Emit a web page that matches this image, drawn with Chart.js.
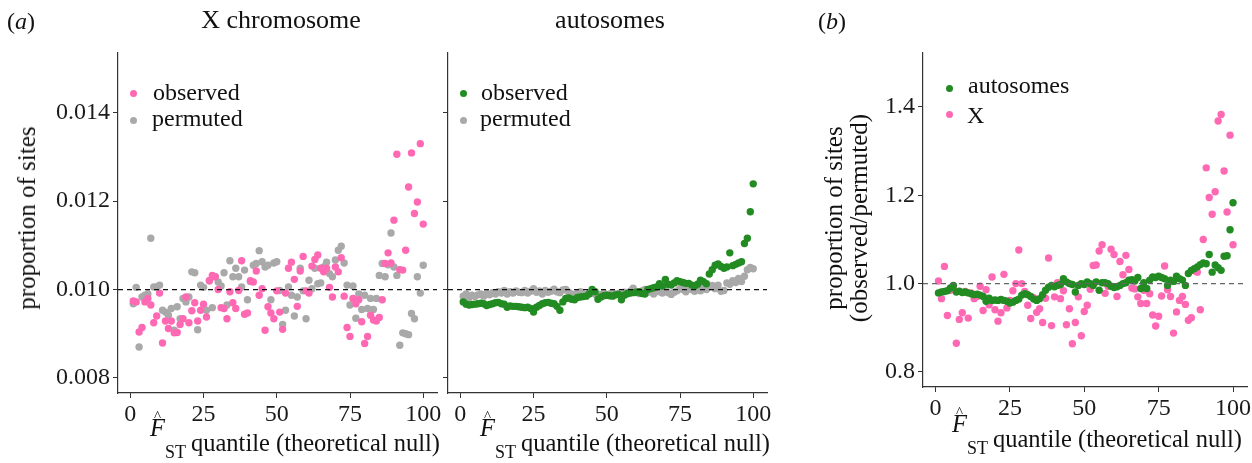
<!DOCTYPE html>
<html>
<head>
<meta charset="utf-8">
<script src="https://cdn.jsdelivr.net/npm/chart.js@4.4.1/dist/chart.umd.min.js"></script>
<style>
  body { margin: 0; background: #fff; }
  #fig { position: relative; width: 1252px; height: 463px; overflow: hidden;
         font-family: "Liberation Serif", serif; color: #111; }
  canvas { position: absolute; top: 0; }
  .t { position: absolute; font-size: 24px; line-height: 24px; white-space: nowrap; }
  .c { transform: translateX(-50%); }
  .strip { font-size: 26px; line-height: 26px; }
  .rot { transform: translate(-50%, -50%) rotate(-90deg); font-size: 25px; }
  .dot { position: absolute; width: 7px; height: 7px; border-radius: 50%; }
  .xt { font-size: 24.5px; line-height: 25px; }
  .xt .F { font-style: italic; position: relative; top: -15px; }
  .xt .hat { position: absolute; left: 4px; top: -6px; font-style: normal; font-size: 15px; line-height: 16px; }
  .xt .sub { font-size: 18px; position: relative; top: 7px; margin-right: 5px; }
</style>
</head>
<body>
<div id="fig">
  <canvas id="chart1" width="460" height="463" style="left:0"></canvas>
  <canvas id="chart2" width="350" height="463" style="left:440px"></canvas>
  <canvas id="chart3" width="480" height="463" style="left:790px"></canvas>

  <div class="t" style="left:7px;top:9px">(<i>a</i>)</div>
  <div class="t c strip" style="left:281px;top:7px">X chromosome</div>
  <div class="t c strip" style="left:610px;top:7px">autosomes</div>
  <div class="t" style="left:818px;top:9px">(<i>b</i>)</div>

  <div class="t rot" style="left:27px;top:218px">proportion of sites</div>
  <div class="t rot" style="left:834px;top:218px">proportion of sites</div>
  <div class="t rot" style="left:859px;top:218px">(observed/permuted)</div>

  <div class="t xt" style="left:150px;top:430px"><span class="F">F<span class="hat">^</span></span><span class="sub">ST</span>quantile (theoretical null)</div>
  <div class="t xt" style="left:480px;top:430px"><span class="F">F<span class="hat">^</span></span><span class="sub">ST</span>quantile (theoretical null)</div>
  <div class="t xt" style="left:952px;top:426px"><span class="F">F<span class="hat">^</span></span><span class="sub">ST</span>quantile (theoretical null)</div>

  <span class="dot" style="left:130px;top:90px;background:#ff69b4"></span>
  <div class="t" style="left:153px;top:80px">observed</div>
  <span class="dot" style="left:130px;top:117px;background:#a9a9a9"></span>
  <div class="t" style="left:152px;top:106px">permuted</div>

  <span class="dot" style="left:460px;top:90px;background:#228b22"></span>
  <div class="t" style="left:481px;top:80px">observed</div>
  <span class="dot" style="left:460px;top:117px;background:#a9a9a9"></span>
  <div class="t" style="left:480px;top:106px">permuted</div>

  <span class="dot" style="left:946px;top:85px;background:#228b22"></span>
  <div class="t" style="left:968px;top:73px">autosomes</div>
  <span class="dot" style="left:946px;top:111px;background:#ff69b4"></span>
  <div class="t" style="left:967px;top:103px">X</div>
</div>

<script>
const quantiles = [1, 2, 3, 4, 5, 6, 7, 8, 9, 10, 11, 12, 13, 14, 15, 16, 17, 18, 19, 20,
  21, 22, 23, 24, 25, 26, 27, 28, 29, 30, 31, 32, 33, 34, 35, 36, 37, 38, 39, 40,
  41, 42, 43, 44, 45, 46, 47, 48, 49, 50, 51, 52, 53, 54, 55, 56, 57, 58, 59, 60,
  61, 62, 63, 64, 65, 66, 67, 68, 69, 70, 71, 72, 73, 74, 75, 76, 77, 78, 79, 80,
  81, 82, 83, 84, 85, 86, 87, 88, 89, 90, 91, 92, 93, 94, 95, 96, 97, 98, 99, 100];

// X chromosome, proportion of sites
const xObserved = [0.00974, 0.00972, 0.00904, 0.00914, 0.00972, 0.00980, 0.00965, 0.00925, 0.00940, 0.00992,
  0.00879, 0.00929, 0.00912, 0.00929, 0.00902, 0.00903, 0.00921, 0.00934, 0.00983, 0.00925,
  0.00952, 0.00970, 0.00929, 0.00953, 0.00967, 0.00938, 0.01020, 0.01032, 0.01029, 0.01000,
  0.00959, 0.00957, 0.00934, 0.00995, 0.00970, 0.00957, 0.00998, 0.01065, 0.00944, 0.00947,
  0.01020, 0.01017, 0.01042, 0.00987, 0.01002, 0.00908, 0.00961, 0.00947, 0.00934, 0.00997,
  0.00949, 0.00910, 0.00992, 0.01048, 0.01062, 0.01023, 0.00962, 0.01042, 0.01075, 0.00997,
  0.00992, 0.01053, 0.01068, 0.01078, 0.01048, 0.01040, 0.01048, 0.01005, 0.00983, 0.01051,
  0.01040, 0.01072, 0.00985, 0.00914, 0.00894, 0.00980, 0.00968, 0.00977, 0.00927, 0.00878,
  0.00894, 0.00942, 0.00931, 0.00929, 0.00937, 0.00977, 0.01059, 0.01083, 0.01060, 0.01157,
  0.01306, 0.01045, 0.01044, 0.01089, 0.01232, 0.01309, 0.01172, 0.01198, 0.01330, 0.01148];
const xPermuted = [0.00968, 0.01005, 0.00870, 0.00983, 0.00987, 0.00990, 0.01116, 0.01006, 0.01006, 0.01010,
  0.00953, 0.00949, 0.00942, 0.00957, 0.00908, 0.00961, 0.00934, 0.00980, 0.00972, 0.00983,
  0.01040, 0.01038, 0.00909, 0.01010, 0.01005, 0.00953, 0.01020, 0.00959, 0.01029, 0.01017,
  0.01008, 0.01038, 0.00965, 0.01065, 0.01029, 0.01048, 0.01029, 0.01006, 0.01044, 0.00977,
  0.01018, 0.01055, 0.01059, 0.01088, 0.01063, 0.01051, 0.01055, 0.00977, 0.01060, 0.01063,
  0.00998, 0.00921, 0.00953, 0.01006, 0.00987, 0.00940, 0.00983, 0.01048, 0.00997, 0.00934,
  0.01021, 0.01002, 0.01048, 0.01013, 0.01015, 0.01051, 0.01062, 0.01036, 0.01029, 0.01067,
  0.01089, 0.01098, 0.01060, 0.01010, 0.00965, 0.01008, 0.00935, 0.00990, 0.00955, 0.00987,
  0.00957, 0.00980, 0.00955, 0.00980, 0.01032, 0.01059, 0.01029, 0.01056, 0.01128, 0.01051,
  0.01032, 0.00874, 0.00902, 0.00900, 0.00898, 0.00946, 0.00934, 0.01029, 0.00992, 0.01055];

// autosomes, proportion of sites
const autoObserved = [0.00972, 0.00967, 0.00965, 0.00966, 0.00967, 0.00968, 0.00969, 0.00968, 0.00964, 0.00966,
  0.00968, 0.00970, 0.00971, 0.00968, 0.00967, 0.00960, 0.00963, 0.00962, 0.00962, 0.00961,
  0.00960, 0.00959, 0.00960, 0.00957, 0.00949, 0.00960, 0.00964, 0.00968, 0.00970, 0.00971,
  0.00969, 0.00968, 0.00962, 0.00953, 0.00972, 0.00980, 0.00981, 0.00978, 0.00977, 0.00982,
  0.00983, 0.00984, 0.00985, 0.00990, 0.01000, 0.00995, 0.00978, 0.00983, 0.00986, 0.00987,
  0.00986, 0.00985, 0.00988, 0.00989, 0.00977, 0.00987, 0.00991, 0.00992, 0.00993, 0.00994,
  0.00995, 0.00991, 0.00990, 0.01000, 0.01002, 0.01004, 0.01006, 0.01013, 0.01008, 0.01023,
  0.01012, 0.01010, 0.01015, 0.01020, 0.01018, 0.01016, 0.01014, 0.01014, 0.01010, 0.01008,
  0.01012, 0.01021, 0.01018, 0.01013, 0.01035, 0.01045, 0.01055, 0.01058, 0.01052, 0.01048,
  0.01051, 0.01083, 0.01054, 0.01057, 0.01060, 0.01063, 0.01104, 0.01116, 0.01176, 0.01239];
const autoPermuted = [0.00985, 0.00990, 0.00982, 0.00987, 0.00984, 0.00988, 0.00990, 0.00985, 0.00991, 0.00988,
  0.00993, 0.00990, 0.00995, 0.00992, 0.00998, 0.00990, 0.00995, 0.00992, 0.00997, 0.00994,
  0.00993, 0.00998, 0.00992, 0.00996, 0.01002, 0.00994, 0.00997, 0.00990, 0.00998, 0.00994,
  0.00996, 0.01001, 0.00995, 0.00993, 0.00999, 0.01000, 0.00994, 0.00990, 0.00986, 0.00992,
  0.00995, 0.00990, 0.00988, 0.00993, 0.00996, 0.00990, 0.00985, 0.00989, 0.00992, 0.00987,
  0.00990, 0.00993, 0.00988, 0.00991, 0.00985, 0.00994, 0.00990, 0.00996, 0.01003, 0.00995,
  0.00991, 0.00997, 0.01000, 0.00994, 0.00996, 0.00990, 0.00998, 0.00995, 0.00992, 0.00999,
  0.00993, 0.00989, 0.00994, 0.00997, 0.01003, 0.01000, 0.00995, 0.01002, 0.01000, 0.00996,
  0.01001, 0.00997, 0.01004, 0.01000, 0.01006, 0.01009, 0.01002, 0.01010, 0.00996, 0.00998,
  0.01015, 0.01012, 0.01020, 0.01016, 0.01025, 0.01018, 0.01030, 0.01045, 0.01050, 0.01047];

// observed / permuted
const ratioAuto = [0.979, 0.981, 0.982, 0.984, 0.990, 0.996, 0.981, 0.983, 0.980, 0.981,
  0.979, 0.977, 0.975, 0.976, 0.974, 0.971, 0.960, 0.967, 0.962, 0.963,
  0.962, 0.964, 0.962, 0.960, 0.956, 0.958, 0.962, 0.965, 0.974, 0.977,
  0.975, 0.971, 0.965, 0.962, 0.966, 0.975, 0.985, 0.992, 0.996, 0.993,
  0.996, 0.998, 1.011, 1.004, 1.000, 0.998, 0.981, 0.996, 1.000, 0.998,
  1.004, 1.000, 0.996, 1.004, 0.985, 1.002, 1.002, 1.000, 0.994, 0.991,
  0.993, 0.996, 1.000, 1.002, 1.008, 1.009, 1.006, 1.014, 0.989, 1.002,
  0.989, 1.008, 1.015, 1.014, 1.017, 1.014, 1.011, 0.996, 1.008, 1.005,
  1.017, 1.011, 1.008, 0.996, 1.023, 1.030, 1.034, 1.038, 1.043, 1.047,
  1.045, 1.066, 1.026, 1.042, 1.036, 1.030, 1.062, 1.063, 1.122, 1.183];
const ratioX = [1.006, 0.966, 1.039, 0.928, 0.985, 0.990, 0.865, 0.919, 0.934, 0.982,
  0.922, 0.979, 0.966, 0.971, 0.994, 0.939, 0.986, 0.952, 1.015, 0.941,
  0.915, 0.934, 1.021, 0.945, 0.962, 0.984, 1.000, 1.076, 1.000, 0.982,
  0.951, 0.921, 0.968, 0.935, 0.943, 0.912, 0.967, 1.058, 0.905, 0.970,
  1.002, 0.966, 0.984, 0.907, 0.943, 0.864, 0.912, 0.970, 0.882, 0.937,
  0.951, 0.987, 1.041, 1.042, 1.074, 1.088, 0.978, 0.994, 1.078, 1.066,
  0.971, 1.050, 1.020, 1.064, 1.032, 0.990, 0.988, 0.970, 0.955, 0.985,
  0.955, 0.977, 0.929, 0.904, 0.926, 0.972, 1.040, 0.986, 0.971, 0.888,
  0.936, 0.962, 0.971, 0.953, 0.917, 0.923, 1.029, 1.026, 0.941, 1.100,
  1.262, 1.195, 1.157, 1.208, 1.368, 1.383, 1.255, 1.162, 1.336, 1.088];

const xTicks = [0, 25, 50, 75, 100];
const propTicks = [0.008, 0.010, 0.012, 0.014];
const ratioTicks = [0.8, 1.0, 1.2, 1.4];

const PINK = "#ff69b4";
const GREY = "#a9a9a9";
const GREEN = "#228b22";

Chart.defaults.font.family = "'Liberation Serif', serif";
Chart.defaults.font.size = 24;
Chart.defaults.color = "#1a1a1a";

function points(values) {
  return values.map((v, i) => ({ x: quantiles[i], y: v }));
}

// dashed horizontal reference line
const refLine = {
  id: "refLine",
  afterDatasetsDraw(chart, args, opts) {
    const { ctx, chartArea } = chart;
    const y = chart.scales.y.getPixelForValue(opts.value);
    ctx.save();
    ctx.strokeStyle = opts.color;
    ctx.lineWidth = 1.2;
    ctx.setLineDash([5, 4]);
    ctx.beginPath();
    ctx.moveTo(chartArea.left, y);
    ctx.lineTo(chartArea.right, y);
    ctx.stroke();
    ctx.restore();
  },
};

function xScale(height) {
  return {
    type: "linear",
    min: -4.2,
    max: 104.7,
    afterBuildTicks: (s) => { s.ticks = xTicks.map((v) => ({ value: v })); },
    afterFit: (s) => { s.height = height; },
    ticks: { autoSkip: false, maxRotation: 0, padding: 2, callback: (v) => String(v) },
    grid: { drawOnChartArea: false, tickLength: 5, tickColor: "#333" },
    border: { color: "#333", width: 1.2 },
  };
}

function yScale(min, max, ticks, digits, width, showLabels) {
  return {
    type: "linear",
    min: min,
    max: max,
    afterBuildTicks: (s) => { s.ticks = ticks.map((v) => ({ value: v })); },
    afterFit: (s) => { s.width = width; },
    ticks: { display: showLabels, autoSkip: false, padding: 3, callback: (v) => Number(v).toFixed(digits) },
    grid: { drawOnChartArea: false, tickLength: 5, tickColor: "#333" },
    border: { color: "#333", width: 1.2 },
  };
}

function baseOptions(rightPad, ref, refColor, xs, ys) {
  return {
    responsive: false,
    animation: false,
    layout: { padding: { top: 53, right: rightPad, left: 0, bottom: 0 } },
    elements: { point: { radius: 3.7, borderWidth: 0, hoverRadius: 3.7 } },
    plugins: {
      legend: { display: false },
      tooltip: { enabled: false },
      refLine: { value: ref, color: refColor },
    },
    scales: { x: xs, y: ys },
  };
}

function generateChart1() {
  new Chart(document.getElementById("chart1"), {
    type: "scatter",
    data: {
      datasets: [
        { label: "observed", data: points(xObserved), backgroundColor: PINK },
        { label: "permuted", data: points(xPermuted), backgroundColor: GREY },
      ],
    },
    options: baseOptions(23, 0.01, "#111", xScale(70), yScale(0.00766, 0.01535, propTicks, 3, 118, true)),
    plugins: [refLine],
  });
}

function generateChart2() {
  new Chart(document.getElementById("chart2"), {
    type: "scatter",
    data: {
      datasets: [
        { label: "observed", data: points(autoObserved), backgroundColor: GREEN },
        { label: "permuted", data: points(autoPermuted), backgroundColor: GREY },
      ],
    },
    options: baseOptions(23, 0.01, "#111", xScale(70), yScale(0.00766, 0.01535, propTicks, 3, 8, false)),
    plugins: [refLine],
  });
}

function generateChart3() {
  new Chart(document.getElementById("chart3"), {
    type: "scatter",
    data: {
      datasets: [
        { label: "autosomes", data: points(ratioAuto), backgroundColor: GREEN },
        { label: "X", data: points(ratioX), backgroundColor: PINK },
      ],
    },
    options: baseOptions(23, 1.0, "#666", xScale(76), yScale(0.766, 1.522, ratioTicks, 1, 133, true)),
    plugins: [refLine],
  });
}

generateChart1();
generateChart2();
generateChart3();
</script>
</body>
</html>
